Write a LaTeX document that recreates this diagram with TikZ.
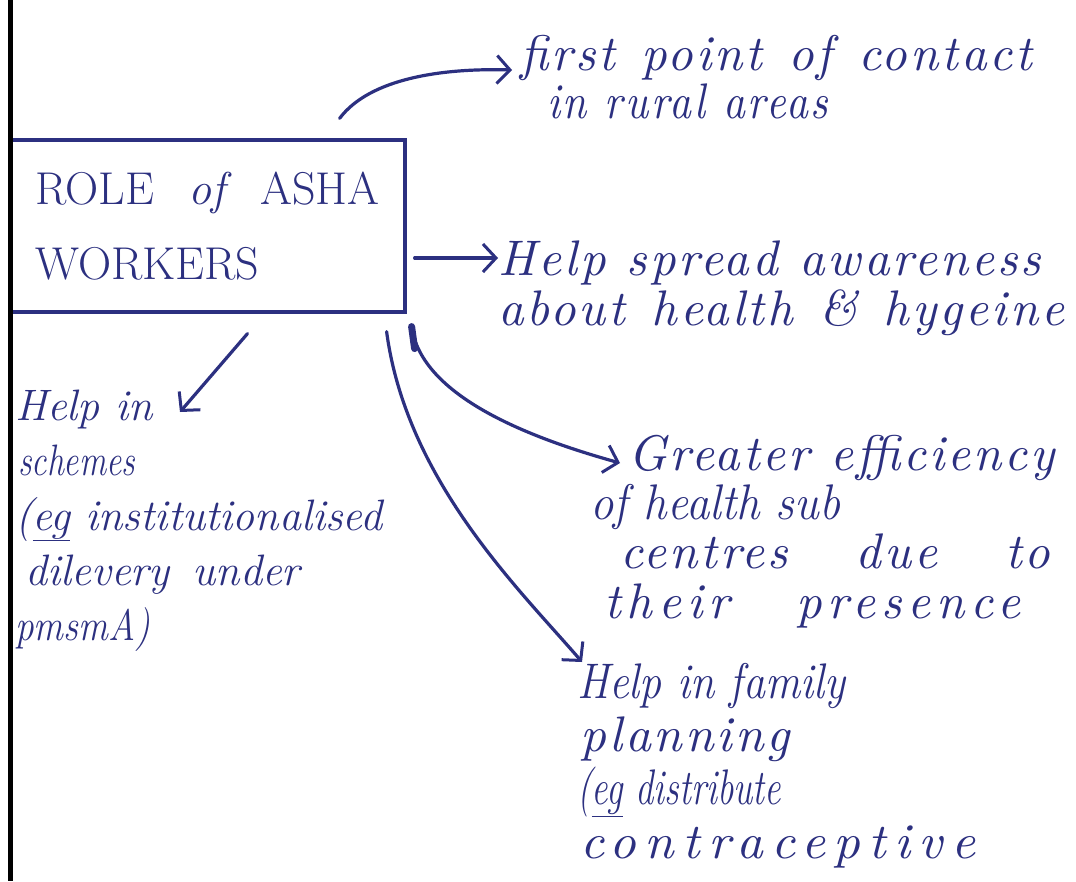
\documentclass[tikz,border=0pt]{standalone}
\usepackage{fontspec}
\usetikzlibrary{arrows.meta,calc}
\definecolor{ink}{RGB}{44,48,128}
% loosely spaced italic for the notes on the right
\newfontfamily\handfam{lmroman10-italic.otf}[LetterSpace=6]
\newcommand\handat[2]{\fontsize{#1}{#2}\selectfont\itshape}
\newcommand\loose[2]{\handfam\fontsize{#1}{#2}\selectfont}
% ordinary italic at the current size, for the tightly written lines
\newcommand\tight{\normalfont\itshape}
% one written line set to a given width: spread the words, or squeeze if too long
\newcommand\wl[2]{\sbox0{#2}\ifdim\wd0>#1\relax\resizebox{#1}{\height}{#2}\else\makebox[#1][s]{#2}\fi}
% one word set to a given width
\newcommand\fitw[2]{\resizebox{#1}{\height}{#2}}
\begin{document}
\begin{tikzpicture}[x=1pt,y=-1pt,
  inkline/.style={draw=ink, line width=3.2pt, line cap=round, line join=round},
  barb/.style={-{Straight Barb[length=13pt,width=28pt,line width=3pt]}},
  hand/.style={text=ink, align=left, inner sep=0pt, anchor=base west}]
  \useasboundingbox[fill=white] (0,0) rectangle (1076,881);

  % title box
  \node[draw=ink, line width=3.2pt, minimum width=395pt, minimum height=172pt,
        inner sep=0pt, text=ink, align=left,
        font=\fontsize{46}{75}\selectfont] (role) at (207.5,226)
        {\wl{344pt}{ROLE {\itshape of} ASHA}\\WORKERS};

  % page margin line
  \draw[black, line width=5pt] (10,0) -- (10,881);

  % the points around the box (each node sits on its last baseline)
  \node[hand, font=\loose{50}{48}] (first) at (520,118)
    {\wl{512pt}{first point of contact}\\\hspace*{27pt}\wl{281pt}{in rural areas}};
  \node[hand, font=\loose{50}{50}] (aware) at (498,325)
    {\wl{543pt}{Help spread awareness}\\\wl{566pt}{about health \& hygeine}};
  \node[hand, font=\handat{44}{55}] (schemes) at (15,640)
    {Help in\\\hspace*{3pt}\fitw{117pt}{schemes}\\(\underline{eg} institutionalised\\\hspace*{10pt}\wl{275pt}{dilevery under}\\\fitw{135pt}{pmsmA)}};
  \node[hand, font=\loose{50}{49.3}] (effic) at (590,618)
    {\hspace*{38pt}\wl{427pt}{Greater efficiency}\\\wl{250pt}{\tight of health sub}\\\hspace*{30pt}\wl{430pt}{centres due to}\\\hspace*{14pt}\wl{416pt}{\addfontfeature{LetterSpace=12}their presence}};
  \node[hand, font=\loose{50}{53.3}] (family) at (577,858)
    {\wl{268pt}{\tight Help in family}\\\hspace*{3pt}\fitw{210pt}{planning}\\\wl{204pt}{\tight(\underline{eg} distribute}\\\hspace*{3pt}\fitw{395pt}{\addfontfeature{LetterSpace=16}contraceptive}};

  % connectors
  \draw[inkline, barb] ($(role.north east)+(-67,-20)$)
    .. controls +(30,-40) and +(-70,-2) .. ($(first.base west)+(-8,-48)$);
  \draw[inkline, barb] ($(role.east)+(8,32)$) -- ($(aware.base west)+(0,-67)$);
  \draw[inkline, barb] ($(role.south)+(40,20)$) -- ($(schemes.base west)+(165,-228)$);
  \coordinate (a4) at ($(role.south east)+(5,13)$);
  \draw[inkline, barb] (a4)
    .. controls +(10,70) and +(-90,-25) .. ($(effic.base west)+(30,-155)$);
  \draw[ink, line width=7pt, line cap=round] (a4) -- ($(a4)+(3,22)$);
  \draw[inkline, barb] ($(role.south east)+(-20,18)$)
    .. controls +(20,150) and +(-60,-70) .. ($(family.base west)+(5,-196)$);
\end{tikzpicture}
\end{document}
